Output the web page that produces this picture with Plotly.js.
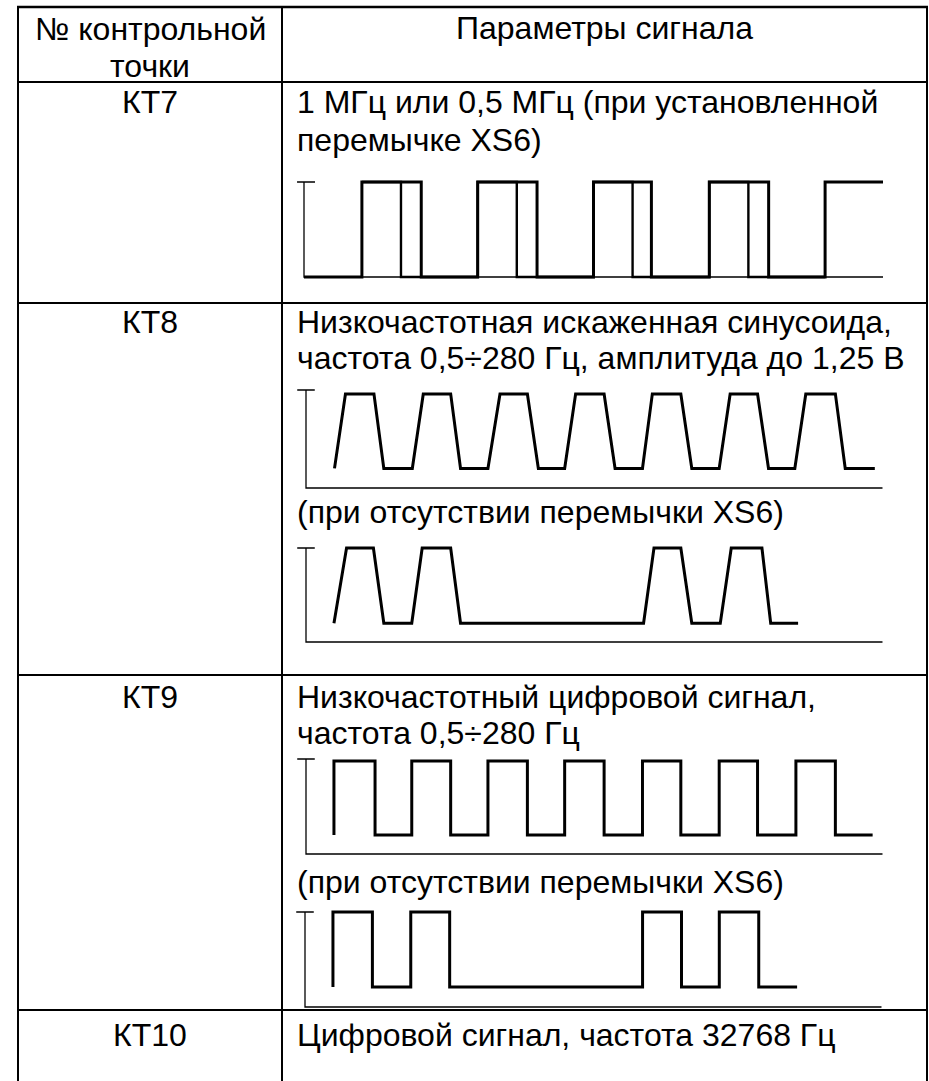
<!DOCTYPE html>
<html><head><meta charset="utf-8">
<script src="https://cdn.plot.ly/plotly-3.0.1.min.js"></script>
<style>html,body{margin:0;padding:0;background:#fff;}#chart{width:929px;height:1081px;}</style>
</head><body><div id="chart"></div>
<script>
// ---------- DATA ----------
// Column 1 labels
const pointLabels = ["КТ7", "КТ8", "КТ9", "КТ10"];
const headerCol1 = ["№ контрольной", "точки"];
const headerCol2 = "Параметры сигнала";
const kt7Text = ["1 МГц или 0,5 МГц (при установленной", "перемычке XS6)"];
const kt8Text = ["Низкочастотная искаженная синусоида,", "частота 0,5÷280 Гц, амплитуда до 1,25 В"];
const kt8Note = "(при отсутствии перемычки XS6)";
const kt9Text = ["Низкочастотный цифровой сигнал,", "частота 0,5÷280 Гц"];
const kt9Note = "(при отсутствии перемычки XS6)";
const kt10Text = "Цифровой сигнал, частота 32768 Гц";

// KT7: two overlaid square signals (time in quarter periods of the 1 MHz signal)
const kt7A_t = [0, 2.0, 2.0, 4.05, 4.05, 6.0, 6.0, 8.05, 8.05, 10.0, 10.0, 12.0, 12.0, 14.0, 14.0, 16.05, 16.05, 18.0, 18.0, 20.0];
const kt7A_v = [0, 0, 1, 1, 0, 0, 1, 1, 0, 0, 1, 1, 0, 0, 1, 1, 0, 0, 1, 1];
const kt7B_t = [2.0, 3.35, 3.35, 6.0, 6.0, 7.35, 7.35, 10.0, 10.0, 11.35, 11.35, 14.0, 14.0, 15.35, 15.35, 18.0];
const kt7B_v = [1, 1, 0, 0, 1, 1, 0, 0, 1, 1, 0, 0, 1, 1, 0, 0];
const kt7Frame_t = [-0.24, 0.38, null, 0, 0, 20.0];
const kt7Frame_v = [1, 1, null, 1, 0, 0];

// KT8: distorted sine (trapezoids)
const kt8a_t = [2.6, 3.6, 6.2, 7.1, 9.7, 10.7, 13.2, 14.1, 16.6, 17.7, 20.2, 21.2, 23.6, 24.6, 27.2, 28.2, 30.7, 31.6, 34.2, 35.2, 37.7, 38.7, 41.2, 42.2, 44.6, 45.6, 48.3, 49.2, 51.9];
const kt8a_v = [0.2, 0.96, 0.96, 0.2, 0.2, 0.96, 0.96, 0.2, 0.2, 0.96, 0.96, 0.2, 0.2, 0.96, 0.96, 0.2, 0.2, 0.96, 0.96, 0.2, 0.2, 0.96, 0.96, 0.2, 0.2, 0.96, 0.96, 0.2, 0.2];
const kt8b_t = [2.55, 3.7, 6.15, 7.1, 9.65, 10.6, 13.2, 14.1, 30.8, 31.75, 34.2, 35.2, 37.8, 38.8, 41.6, 42.4, 44.9];
const kt8b_v = [0.2, 1.0, 1.0, 0.2, 0.2, 1.0, 1.0, 0.2, 0.2, 1.0, 1.0, 0.2, 0.2, 1.0, 1.0, 0.2, 0.2];
// KT9: digital square signal
const kt9a_t = [2.55, 2.55, 6.3, 6.3, 9.65, 9.65, 13.2, 13.2, 16.6, 16.6, 20.2, 20.2, 23.6, 23.6, 27.2, 27.2, 30.7, 30.7, 34.2, 34.2, 37.7, 37.7, 41.2, 41.2, 44.7, 44.7, 48.3, 48.3, 51.7];
const kt9a_v = [0.2, 0.98, 0.98, 0.2, 0.2, 0.98, 0.98, 0.2, 0.2, 0.98, 0.98, 0.2, 0.2, 0.98, 0.98, 0.2, 0.2, 0.98, 0.98, 0.2, 0.2, 0.98, 0.98, 0.2, 0.2, 0.98, 0.98, 0.2, 0.2];
const kt9b_t = [2.55, 2.55, 6.15, 6.15, 9.65, 9.65, 13.2, 13.2, 30.8, 30.8, 34.35, 34.35, 37.8, 37.8, 41.4, 41.4, 44.9];
const kt9b_v = [0.21, 1.0, 1.0, 0.21, 0.21, 1.0, 1.0, 0.21, 0.21, 1.0, 1.0, 0.21, 0.21, 1.0, 1.0, 0.21, 0.21];
const lfFrame_t = [-0.8, 0.8, null, 0, 0, 52.6];
const lfFrame_v = [1, 1, null, 1, 0, 0];

// ---------- LAYOUT HELPERS ----------
const W = 929, H = 1081;
const fx = px => px / W;
const fy = py => 1 - py / H;
const FONT = "Liberation Sans, Arial, sans-serif";
const FS = 32;

// diagram placement: pixel of t=0, px per t unit, baseline pixel, px per level unit
const diagrams = [
  {id: 1, px0: 304, ppu: 28.95, base: 277, ppl: 95, tr: [-1, 21]},
  {id: 2, px0: 306, ppu: 10.96, base: 488, ppl: 98, tr: [-2, 54]},
  {id: 3, px0: 306, ppu: 10.96, base: 642, ppl: 94, tr: [-2, 54]},
  {id: 4, px0: 306, ppu: 10.96, base: 854, ppl: 95, tr: [-2, 54]},
  {id: 5, px0: 305, ppu: 10.96, base: 1007, ppl: 95, tr: [-2, 54]}
];
const vr = [-0.3, 1.25];

const layout = {
  width: W, height: H,
  margin: {l: 0, r: 0, t: 0, b: 0},
  paper_bgcolor: "#fff", plot_bgcolor: "rgba(0,0,0,0)",
  showlegend: false,
  font: {family: FONT, size: FS, color: "#000"},
  shapes: [], annotations: []
};
diagrams.forEach(d => {
  const sx = d.id === 1 ? "" : d.id;
  layout["xaxis" + sx] = {
    domain: [fx(d.px0 + d.tr[0] * d.ppu), fx(d.px0 + d.tr[1] * d.ppu)],
    range: d.tr, visible: false, fixedrange: true, anchor: "y" + sx
  };
  layout["yaxis" + sx] = {
    domain: [fy(d.base - vr[0] * d.ppl), fy(d.base - vr[1] * d.ppl)],
    range: vr, visible: false, fixedrange: true, anchor: "x" + sx
  };
});

const thin = {color: "#000", width: 1.3};
const thick = {color: "#000", width: 3};
function tr(x, y, n, line) {
  const sx = n === 1 ? "" : n;
  return {type: "scatter", mode: "lines", x: x, y: y, xaxis: "x" + sx, yaxis: "y" + sx,
          line: Object.assign({shape: "linear"}, line), hoverinfo: "skip", connectgaps: false};
}
const traces = [
  tr(kt7Frame_t, kt7Frame_v, 1, thin),
  tr(kt7B_t, kt7B_v, 1, {color: "#000", width: 2.4}),
  tr(kt7A_t, kt7A_v, 1, thick),
  tr(lfFrame_t, lfFrame_v, 2, thin),
  tr(kt8a_t, kt8a_v, 2, thick),
  tr(lfFrame_t, lfFrame_v, 3, thin),
  tr(kt8b_t, kt8b_v, 3, thick),
  tr(lfFrame_t, lfFrame_v, 4, thin),
  tr(kt9a_t, kt9a_v, 4, thick),
  tr(lfFrame_t, lfFrame_v, 5, thin),
  tr(kt9b_t, kt9b_v, 5, thick)
];

// table grid
const L = 18, C = 282, R = 927, T = 7;
function line(x0, y0, x1, y1, w) {
  layout.shapes.push({type: "line", xref: "paper", yref: "paper",
    x0: fx(x0), y0: fy(y0), x1: fx(x1), y1: fy(y1), line: {color: "#000", width: w}});
}
line(L - 1, T, R + 1, T, 2.5);
[82, 303, 675, 1010].forEach(y => line(L, y, R, y, 2));
[L, C, R].forEach(x => line(x, T, x, H + 2, 2));

// texts
function txt(s, px, py, anchor) {
  layout.annotations.push({text: s, xref: "paper", yref: "paper", x: fx(px), y: fy(py),
    xanchor: anchor, yanchor: "middle", showarrow: false, borderpad: 0,
    font: {family: FONT, size: FS, color: "#000"}});
}
const c1 = (L + C) / 2, c2 = (C + R) / 2, tx = 296;
txt(headerCol1[0], c1, 29, "center");
txt(headerCol1[1], c1, 66, "center");
txt(headerCol2, c2, 28, "center");
txt(pointLabels[0], c1, 102, "center");
txt(kt7Text[0], tx, 102, "left");
txt(kt7Text[1], tx, 140, "left");
txt(pointLabels[1], c1, 322, "center");
txt(kt8Text[0], tx, 322, "left");
txt(kt8Text[1], tx, 358, "left");
txt(kt8Note, tx, 512, "left");
txt(pointLabels[2], c1, 697, "center");
txt(kt9Text[0], tx, 697, "left");
txt(kt9Text[1], tx, 733, "left");
txt(kt9Note, tx, 882, "left");
txt(pointLabels[3], c1, 1035, "center");
txt(kt10Text, tx, 1035, "left");

Plotly.newPlot("chart", traces, layout, {displayModeBar: false, staticPlot: true});
</script></body></html>
